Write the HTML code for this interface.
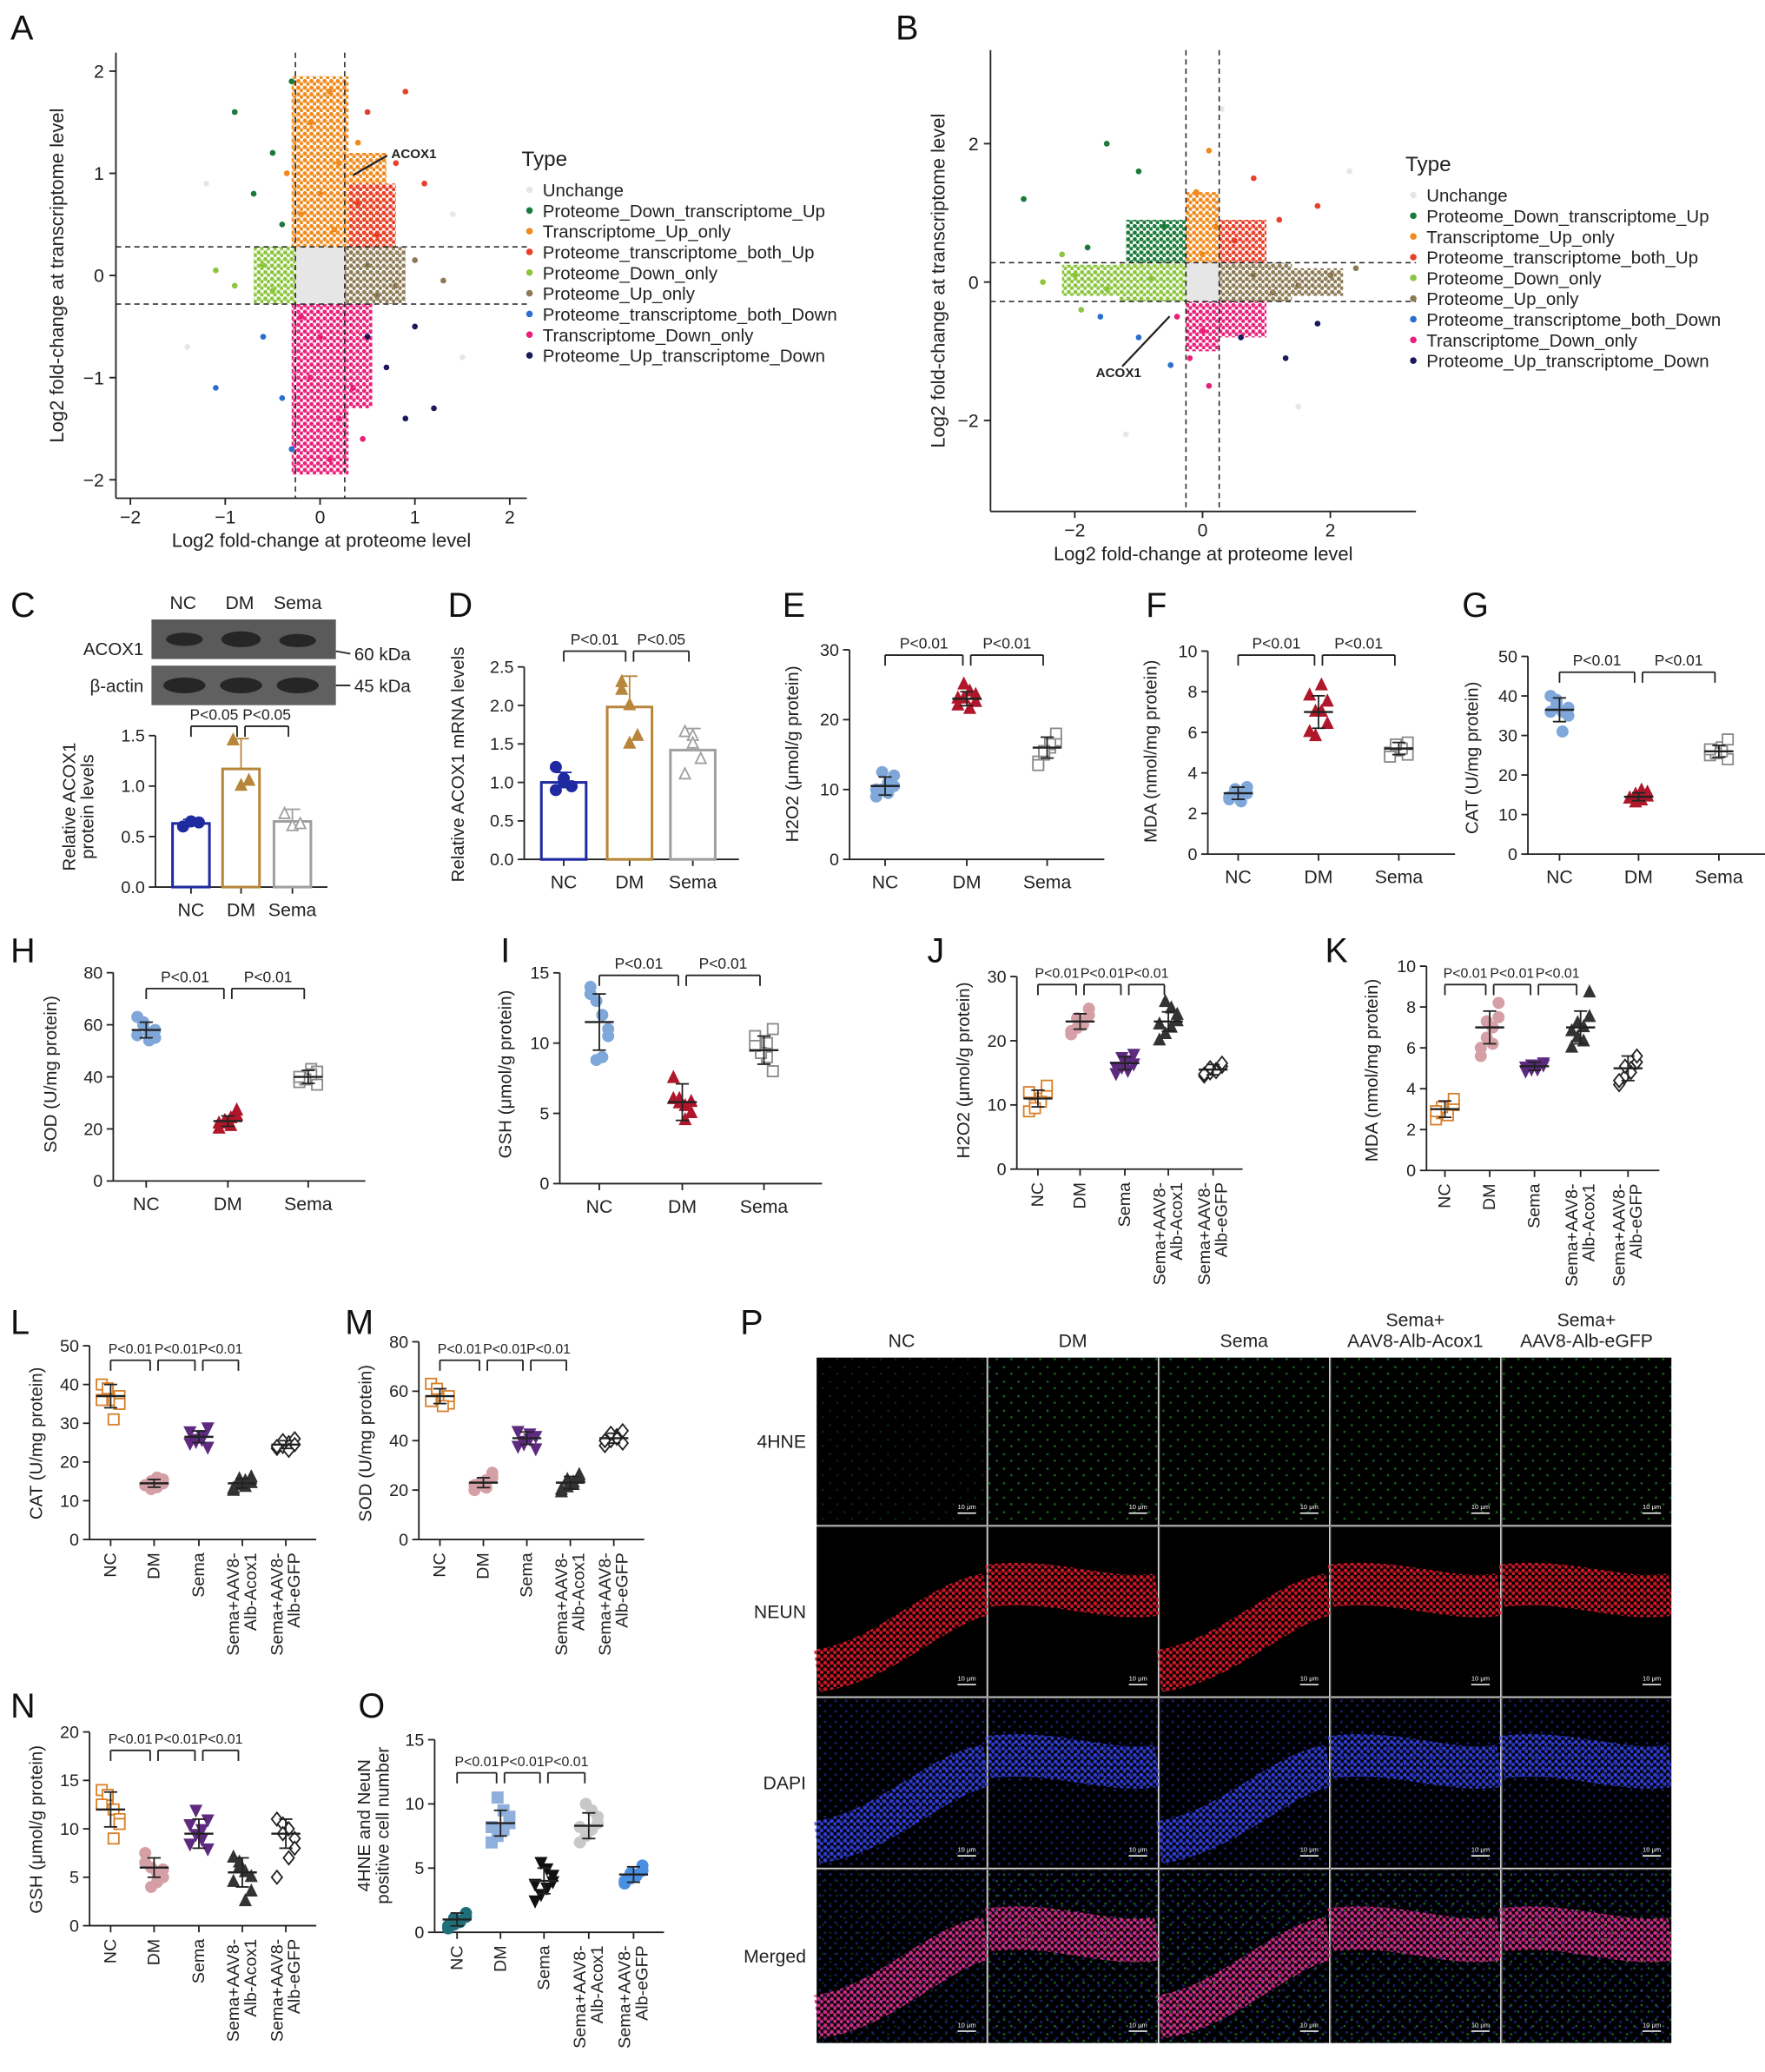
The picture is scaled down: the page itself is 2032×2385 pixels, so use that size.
<!DOCTYPE html>
<html><head><meta charset="utf-8"><title>Multi-panel figure</title>
<style>
html,body{margin:0;padding:0;background:#fff;}
svg{display:block;font-family:"Liberation Sans",Arial,sans-serif;}
</style></head>
<body>
<svg id="fig" width="2032" height="2385" viewBox="0 0 1340 1572" preserveAspectRatio="none" xmlns="http://www.w3.org/2000/svg"></svg>
<script>
// ---------- data ----------
const typeNames = ["Unchange","Proteome_Down_transcriptome_Up","Transcriptome_Up_only","Proteome_transcriptome_both_Up","Proteome_Down_only","Proteome_Up_only","Proteome_transcriptome_both_Down","Transcriptome_Down_only","Proteome_Up_transcriptome_Down"];
const typeColors = ["#e6e6e6","#1a7a3a","#f08a1c","#e8402a","#8cc63f","#8c7a55","#2a6fd0","#e8207a","#1a1a5a"];
const aPoints = [[-0.9,1.6,1],[-0.5,1.2,1],[-0.3,1.9,1],[-0.7,0.8,1],[-0.4,0.5,1],[0.1,1.8,2],[-0.1,1.5,2],[0.2,1.1,2],[0.0,0.8,2],[-0.2,0.6,2],[0.15,0.45,2],[0.5,1.6,3],[0.8,1.1,3],[0.4,0.7,3],[1.1,0.9,3],[0.6,0.4,3],[0.9,1.8,3],[-0.6,0.1,4],[-0.9,-0.1,4],[-0.5,-0.15,4],[-1.1,0.05,4],[0.5,0.1,5],[0.8,-0.1,5],[1.0,0.15,5],[0.6,-0.2,5],[1.3,-0.05,5],[-0.6,-0.6,6],[-0.4,-1.2,6],[-1.1,-1.1,6],[-0.3,-1.7,6],[0.0,-0.6,7],[-0.1,-1.0,7],[0.2,-1.4,7],[0.1,-1.8,7],[-0.2,-0.4,7],[0.5,-0.6,8],[0.9,-1.4,8],[1.2,-1.3,8],[1.0,-0.5,8],[0.7,-0.9,8],[-1.2,0.9,0],[-1.4,-0.7,0],[1.4,0.6,0],[1.5,-0.8,0],[0.4,1.3,2],[0.35,-1.1,7],[0.45,-1.6,7],[-0.35,1.0,2]];
const bPoints = [[-2.8,1.2,1],[-1.5,2.0,1],[-1.0,1.6,1],[-0.6,0.8,1],[-1.8,0.5,1],[0.1,1.9,2],[-0.1,1.3,2],[0.2,0.8,2],[0.0,0.4,2],[0.8,1.5,3],[1.2,0.9,3],[0.5,0.6,3],[1.8,1.1,3],[-2.0,0.1,4],[-1.5,-0.1,4],[-2.5,0.0,4],[-0.8,0.05,4],[0.8,0.1,5],[1.5,-0.05,5],[2.0,0.1,5],[1.1,-0.15,5],[-1.0,-0.8,6],[-1.6,-0.5,6],[-0.5,-1.2,6],[0.0,-0.7,7],[-0.2,-1.1,7],[0.1,-1.5,7],[-0.4,-0.5,7],[0.6,-0.8,8],[1.3,-1.1,8],[1.8,-0.6,8],[-1.2,-2.2,0],[1.5,-1.8,0],[0.3,2.5,0],[2.3,1.6,0],[-2.2,0.4,4],[-1.9,-0.4,4],[2.4,0.2,5]];
const cCats=["NC","DM","Sema"], cMeans=[0.63,1.17,0.65], cSd=[0.04,0.3,0.12], cPts=[[0.6,0.65,0.64],[1.45,1.0,1.05],[0.72,0.6,0.62]];
const dCats=["NC","DM","Sema"], dMeans=[1.0,1.98,1.42], dSd=[0.13,0.4,0.28], dPts=[[1.2,1.0,0.95,0.9,1.05],[2.3,2.0,1.6,2.2,1.5],[1.65,1.6,1.3,1.1,1.5]];
const eCats=["NC","DM","Sema"], eMeans=[10.5,23,16], eSd=[1.3,1,1.5], ePts=[[9,10,11,12,10.5,9.5,12.5,10],[22,23,24,23.5,22.5,21.5,25,23],[14,15,16,17,18,16.5,15.5,13.5]];
const fCats=["NC","DM","Sema"], fMeans=[3,7,5.2], fSd=[0.3,0.8,0.3], fPts=[[2.8,3.1,2.6,3.3,3.0,2.9,3.2,2.7],[6,7,8.3,7.5,6.4,7,5.8,7.8],[5,5.3,5.1,5.5,4.9,5.2,5.4,4.8]];
const gCats=["NC","DM","Sema"], gMeans=[36.5,14.5,26], gSd=[3,1,1.5], gPts=[[40,38,36,37,35,31,39,36],[14,15,13.5,14.5,15.5,16,13,14],[25,26,27,29,24,26,25.5,26.5]];
const hCats=["NC","DM","Sema"], hMeans=[58,23,40], hSd=[3,2,2.5], hPts=[[63,60,57,55,58,54,61,56],[20,22,24,25,27,21,23,22],[38,40,43,42,37,41,39,40]];
const iCats=["NC","DM","Sema"], iMeans=[11.5,5.8,9.5], iSd=[2,1.3,1], iPts=[[14,13,12,11,10.5,9,8.8,13.5],[7.5,6,5.5,5,5.8,4.5,5.7,6],[10.5,9.5,9,11,8,10,9.3,9.8]];
const fiveCats=["NC","DM","Sema","Sema+AAV8-|Alb-Acox1","Sema+AAV8-|Alb-eGFP"];
const jMeans=[11,23,16.5,23,15.5], jSd=[1.3,1.2,1,1.5,0.8], jPts=[[9,10,11,12,13,10.5,9.5,12],[21,22,23,24,25,22.5,23.5,21.5],[15,16,17,18,16.5,15.5,17.5,16],[20,21,22,23,24,25,26,22.5],[14.5,15,15.5,16,16.5,15.2,15.8,14.8]];
const kMeans=[3,7,5.1,7,5], kSd=[0.4,0.8,0.2,0.8,0.6], kPts=[[2.5,2.8,3,3.2,3.5,2.7,3.1,2.9],[6,6.5,7,7.5,8.2,6.2,7.3,5.6],[4.9,5,5.1,5.2,5.3,5.0,5.2,5.1],[6,6.5,7,7.5,8.7,6.3,7.2,6.8],[4.2,4.6,5,5.3,5.6,4.8,5.1,4.4]];
const lMeans=[37,14.5,26.5,14.5,24.5], lSd=[3,1,1.5,1.2,1], lPts=[[40,38,36,37,35,31,39,36],[14,15,13.5,14.5,15.5,16,13,14],[25,26,27,29,24,26,25.5,28],[13,14,15,16,14.5,13.5,15.5,12.5],[23.5,24,25,26,24.5,23,25.5,24]];
const mMeans=[58,23,41,23,41], mSd=[3,2,2.5,2.5,2], mPts=[[63,60,57,55,58,54,61,56],[20,22,24,25,27,21,23,22],[38,40,43,42,37,41,39,44],[19,21,23,25,26,22,24,20],[38,40,42,44,39,41,43,40]];
const nMeans=[12,6,9.5,5.5,9.5], nSd=[1.8,1,1.5,1.5,1.5], nPts=[[14,13,12,11,10.5,9,13.5,12.5],[7.5,6,5.5,5,5.8,4.5,4,6.5],[10.5,9.5,9,11,8,10,12,8.5],[7,6,5.5,5,3.5,2.5,6.5,4.5],[11,10.5,10,9,8,7,9.5,5]];
const oMeans=[1,8.5,4,8.3,4.5], oSd=[0.5,1,1,1,0.6], oPts=[[0.3,0.6,0.9,1.2,1.5,0.8,1.1,0.5],[7,7.5,8,8.5,9,9.5,10.5,8.2],[2.5,3,3.5,4,4.5,5,5.5,3.8],[7,7.5,8,8.5,9,9.5,10,8.2],[3.8,4.2,4.5,4.8,5.2,4.4,4.6,4]];
const pCols=["NC","DM","Sema","Sema+|AAV8-Alb-Acox1","Sema+|AAV8-Alb-eGFP"];
const pRows=["4HNE","NEUN","DAPI","Merged"];

// ---------- helpers ----------
const svg=document.getElementById('fig');
const NS="http://www.w3.org/2000/svg";
function mk(tag,attrs,name,parent){
  const el=document.createElementNS(NS,tag);
  for(const k in attrs) el.setAttribute(k,attrs[k]);
  
  
  (parent||svg).appendChild(el);
  return el;
}
const defs=mk('defs',{},'pattern-defs');
function dotPattern(id,color,size,r,op){
  const p=mk('pattern',{id:id,patternUnits:'userSpaceOnUse',width:size,height:size},'dot-pattern',defs);
  mk('circle',{cx:size*0.3,cy:size*0.3,r:r,fill:color,opacity:op},'pattern-dot',p);
  mk('circle',{cx:size*0.8,cy:size*0.75,r:r,fill:color,opacity:op},'pattern-dot',p);
}
typeColors.forEach((c,i)=>dotPattern('tp'+i,c,5,1.6,1));
dotPattern('green-sparse','#2fbf3a',11,0.9,0.7);
dotPattern('blue-sparse','#3040e0',8,1.0,0.6);
dotPattern('red-dense','#e01a2a',5,1.5,0.9);
dotPattern('blue-dense','#3a4aff',5,1.5,0.8);
dotPattern('mag-dense','#e0308f',5,1.5,0.9);

function txt(x,y,s,size,name,opts){
  opts=opts||{};
  const t=mk('text',{x:x,y:y,'font-size':size,'text-anchor':opts.anchor||'middle',fill:opts.fill||'#222','font-weight':opts.weight||'normal'},name);
  if(opts.rot!==undefined) t.setAttribute('transform','rotate('+opts.rot+' '+x+' '+y+')');
  t.textContent=s;
  return t;
}
function line(x1,y1,x2,y2,name,opts){
  opts=opts||{};
  return mk('line',{x1:x1,y1:y1,x2:x2,y2:y2,stroke:opts.stroke||'#222','stroke-width':opts.w||1.2,'stroke-dasharray':opts.dash||'none'},name);
}
function marker(x,y,shape,color,fill,name){
  const r=4;
  let el;
  if(shape==='circle') el=mk('circle',{cx:x,cy:y,r:r},name);
  else if(shape==='square') el=mk('rect',{x:x-r,y:y-r,width:2*r,height:2*r},name);
  else if(shape==='tri') el=mk('polygon',{points:`${x},${y-r-1} ${x-r},${y+r-1} ${x+r},${y+r-1}`},name);
  else if(shape==='invtri') el=mk('polygon',{points:`${x},${y+r+1} ${x-r},${y-r+1} ${x+r},${y-r+1}`},name);
  else el=mk('polygon',{points:`${x},${y-r-1} ${x+r},${y} ${x},${y+r+1} ${x-r},${y}`},name);
  el.setAttribute('fill',fill?color:'#fff');
  el.setAttribute('stroke',color);
  el.setAttribute('stroke-width',1.2);
  return el;
}
function letter(x,y,s){ txt(x,y,s,26,'panel-label-'+s.toLowerCase(),{anchor:'start',fill:'#111'}); }

function axes(c){
  const yOf=v=>c.y0-v*c.per;
  line(c.ax,yOf(0),c.ax,yOf(c.ymax),'y-axis-line');
  for(let v=0;v<=c.ymax+1e-9;v+=c.step){
    line(c.ax-5,yOf(v),c.ax,yOf(v),'y-tick');
    txt(c.ax-8,yOf(v)+4.5,c.fmt?v.toFixed(1):String(v),13,'y-tick-label',{anchor:'end'});
  }
  const last=c.xs[c.xs.length-1];
  line(c.ax,yOf(0),last+(c.xs[1]-c.xs[0])*0.7,yOf(0),'x-axis-line');
  c.cats.forEach((cat,i)=>{
    line(c.xs[i],yOf(0),c.xs[i],yOf(0)+5,'x-tick');
    if(c.rot){
      const parts=cat.split('|');
      parts.forEach((p,k)=>{
        const xx=c.xs[i]+4+(k-(parts.length-1)/2)*13;
        txt(xx,yOf(0)+10,p,13,'x-category-label',{anchor:'end',rot:-90});
      });
    } else txt(c.xs[i],yOf(0)+22,cat,14,'x-category-label');
  });
  const ylines=c.ylabel.split('|');
  ylines.forEach((s,k)=>{
    const xx=c.ylx+(k-(ylines.length-1)/2)*14;
    txt(xx,c.yly,s,13.5,'y-axis-title',{rot:-90});
  });
  (c.brackets||[]).forEach(b=>{
    const x1=c.xs[b[0]]+(b[0]===0?0:3), x2=c.xs[b[1]]-3, y=c.by;
    line(x1,y,x2,y,'significance-bracket');
    line(x1,y,x1,y+8,'significance-bracket');
    line(x2,y,x2,y+8,'significance-bracket');
    txt((x1+x2)/2,y-5,b[2],c.rot?10.5:11.5,'p-value-label');
  });
  return yOf;
}
function dotPanel(c,means,sds,pts){
  const yOf=axes(c);
  pts.forEach((g,i)=>{
    g.forEach((v,k)=>{
      const off=((k%4)-1.5)*4.5*(k<4?1:-1);
      marker(c.xs[i]+off,yOf(v),c.shapes[i],c.colors[i],c.fills[i],'data-point');
    });
    line(c.xs[i]-11,yOf(means[i]),c.xs[i]+11,yOf(means[i]),'mean-line',{w:1.6});
    line(c.xs[i],yOf(means[i]-sds[i]),c.xs[i],yOf(means[i]+sds[i]),'sd-bar',{w:1.2});
    line(c.xs[i]-5,yOf(means[i]+sds[i]),c.xs[i]+5,yOf(means[i]+sds[i]),'sd-cap');
    line(c.xs[i]-5,yOf(means[i]-sds[i]),c.xs[i]+5,yOf(means[i]-sds[i]),'sd-cap');
  });
}
function barPanel(c,means,sds,pts){
  const yOf=axes(c);
  means.forEach((m,i)=>{
    mk('rect',{x:c.xs[i]-c.bw/2,y:yOf(m),width:c.bw,height:yOf(0)-yOf(m),fill:'none',stroke:c.colors[i],'stroke-width':2},'bar-'+c.cats[i].toLowerCase());
    line(c.xs[i],yOf(m),c.xs[i],yOf(m+sds[i]),'error-bar',{stroke:c.colors[i]});
    line(c.xs[i]-6,yOf(m+sds[i]),c.xs[i]+6,yOf(m+sds[i]),'error-cap',{stroke:c.colors[i]});
    pts[i].forEach((v,k)=>marker(c.xs[i]+(k%3-1)*6,yOf(v),c.shapes[i],c.colors[i],c.fills[i],'data-point'));
  });
}

function scatter(c,points){
  const X=v=>c.x0+v*c.px, Y=v=>c.y0-v*c.py;
  line(c.left,c.bottom,c.left,c.top,'y-axis-line');
  line(c.left,c.bottom,c.right,c.bottom,'x-axis-line');
  c.xt.forEach(v=>{line(X(v),c.bottom,X(v),c.bottom+5,'x-tick');txt(X(v),c.bottom+19,v<0?'−'+(-v):String(v),14,'x-tick-label');});
  c.yt.forEach(v=>{line(c.left-5,Y(v),c.left,Y(v),'y-tick');txt(c.left-9,Y(v)+5,v<0?'−'+(-v):String(v),14,'y-tick-label',{anchor:'end'});});
  c.regions.forEach(r=>mk('rect',{x:X(r[0]),y:Y(r[3]),width:X(r[1])-X(r[0]),height:Y(r[2])-Y(r[3]),fill:r[4]===0?typeColors[0]:'url(#tp'+r[4]+')'},'density-region-'+typeNames[r[4]].toLowerCase()));
  points.forEach(p=>mk('circle',{cx:X(p[0]),cy:Y(p[1]),r:2.2,fill:typeColors[p[2]]},'gene-point'));
  line(X(-c.t),c.top,X(-c.t),c.bottom,'threshold-line',{dash:'4,3',w:1});
  line(X(c.t),c.top,X(c.t),c.bottom,'threshold-line',{dash:'4,3',w:1});
  line(c.left,Y(c.ty),c.right,Y(c.ty),'threshold-line',{dash:'4,3',w:1});
  line(c.left,Y(-c.ty),c.right,Y(-c.ty),'threshold-line',{dash:'4,3',w:1});
  txt((c.left+c.right)/2,c.bottom+37,'Log2 fold-change at proteome level',14.5,'x-axis-title');
  txt(c.ylx,(c.top+c.bottom)/2,'Log2 fold-change at transcriptome level',14.5,'y-axis-title',{rot:-90});
  line(c.ann[0],c.ann[1],c.ann[2],c.ann[3],'acox1-annotation-line',{w:1.5});
  txt(c.ann[4],c.ann[5],'ACOX1',10,'acox1-annotation',{weight:'bold',anchor:'start'});
  txt(c.lx-6,c.ly-6,'Type',16,'legend-title',{anchor:'start'});
  typeNames.forEach((n,i)=>{
    mk('circle',{cx:c.lx,cy:c.ly+12+i*15.7,r:2.5,fill:typeColors[i]},'legend-marker');
    txt(c.lx+10,c.ly+17+i*15.7,n,13.5,'legend-entry',{anchor:'start'});
  });
}
letter(8,30,'A');
scatter({x0:243,px:72,y0:209,py:77.5,left:88,right:400,top:40,bottom:378,xt:[-2,-1,0,1,2],yt:[-2,-1,0,1,2],t:0.26,ty:0.28,ylx:48,
  regions:[[-0.26,0.26,-0.28,0.28,0,1],[-0.3,0.3,0.28,1.95,2],[0.3,0.7,0.28,1.2,2],[-0.3,0.3,-1.95,-0.28,7],[0.3,0.55,-1.3,-0.28,7],[0.26,0.9,-0.28,0.28,5],[-0.7,-0.26,-0.28,0.28,4],[0.3,0.8,0.28,0.9,3]],
  ann:[268,133,294,118,297,120],lx:402,ly:132},aPoints);
letter(680,30,'B');
scatter({x0:913,px:48.5,y0:214,py:52.5,left:752,right:1075,top:38,bottom:388,xt:[-2,0,2],yt:[-2,0,2],t:0.26,ty:0.28,ylx:717,
  regions:[[-0.26,0.26,-0.28,0.28,0,1],[-1.3,-0.26,-0.28,0.28,4],[-2.2,-1.3,-0.2,0.25,4],[0.26,1.4,-0.28,0.28,5],[1.4,2.2,-0.2,0.2,5],[-0.26,0.26,0.28,1.3,2],[-0.26,0.26,-1.0,-0.28,7],[0.26,1.0,-0.8,-0.28,7],[-1.2,-0.26,0.28,0.9,1],[0.26,1.0,0.28,0.9,3]],
  ann:[888,240,852,278,832,286],lx:1073,ly:136},bPoints);

// ---------- C ----------
letter(8,468,'C');
[['NC',139],['DM',182],['Sema',226]].forEach(a=>txt(a[1],462,a[0],14,'blot-lane-label'));
mk('rect',{x:115,y:470,width:140,height:30,fill:'#5a5a5a'},'acox1-blot');
mk('rect',{x:115,y:505,width:140,height:30,fill:'#606060'},'beta-actin-blot');
[[140,485,14,5],[183,485,15,6],[226,486,14,5],[140,520,16,6],[183,520,16,6],[226,520,16,6]].forEach(b=>mk('ellipse',{cx:b[0],cy:b[1],rx:b[2],ry:b[3],fill:'#262626'},'blot-band'));
txt(109,497,'ACOX1',13.5,'blot-label-acox1',{anchor:'end'});
txt(109,525,'β-actin',13.5,'blot-label-actin',{anchor:'end'});
line(255,494,266,496,'marker-line');line(255,520,266,520,'marker-line');
txt(269,501,'60 kDa',13.5,'size-marker-60',{anchor:'start'});
txt(269,525,'45 kDa',13.5,'size-marker-45',{anchor:'start'});
barPanel({ax:118,y0:673,per:76.6,ymax:1.5,step:0.5,fmt:true,xs:[145,183,222],bw:28,cats:cCats,colors:['#1f2aa0','#b8863b','#a0a0a0'],shapes:['circle','tri','tri'],fills:[true,true,false],
  ylabel:'Relative ACOX1|protein levels',ylx:64,yly:612,by:551,brackets:[[0,1,'P<0.05'],[1,2,'P<0.05']]},cMeans,cSd,cPts);

// ---------- D ----------
letter(340,468,'D');
barPanel({ax:398,y0:652,per:58.4,ymax:2.5,step:0.5,fmt:true,xs:[428,478,526],bw:34,cats:dCats,colors:['#1f2aa0','#b8863b','#a0a0a0'],shapes:['circle','tri','tri'],fills:[true,true,false],
  ylabel:'Relative ACOX1 mRNA levels',ylx:352,yly:580,by:494,brackets:[[0,1,'P<0.01'],[1,2,'P<0.05']]},dMeans,dSd,dPts);

// ---------- E F G H I ----------
const c3=['#7fa7d9','#b0172a','#8a8a8a'], s3=['circle','tri','square'], f3=[true,true,false];
letter(594,468,'E');
dotPanel({ax:645,y0:652,per:5.3,ymax:30,step:10,xs:[672,734,795],cats:eCats,colors:c3,shapes:s3,fills:f3,ylabel:'H2O2 (μmol/g protein)',ylx:606,yly:572,by:497,brackets:[[0,1,'P<0.01'],[1,2,'P<0.01']]},eMeans,eSd,ePts);
letter(870,468,'F');
dotPanel({ax:917,y0:648,per:15.4,ymax:10,step:2,xs:[940,1001,1062],cats:fCats,colors:c3,shapes:s3,fills:f3,ylabel:'MDA (nmol/mg protein)',ylx:878,yly:570,by:497,brackets:[[0,1,'P<0.01'],[1,2,'P<0.01']]},fMeans,fSd,fPts);
letter(1110,468,'G');
dotPanel({ax:1160,y0:648,per:3.0,ymax:50,step:10,xs:[1184,1244,1305],cats:gCats,colors:c3,shapes:s3,fills:f3,ylabel:'CAT (U/mg protein)',ylx:1122,yly:575,by:510,brackets:[[0,1,'P<0.01'],[1,2,'P<0.01']]},gMeans,gSd,gPts);
letter(8,730,'H');
dotPanel({ax:86,y0:896,per:1.975,ymax:80,step:20,xs:[111,173,234],cats:hCats,colors:c3,shapes:s3,fills:f3,ylabel:'SOD (U/mg protein)',ylx:43,yly:815,by:750,brackets:[[0,1,'P<0.01'],[1,2,'P<0.01']]},hMeans,hSd,hPts);
letter(380,730,'I');
dotPanel({ax:425,y0:898,per:10.66,ymax:15,step:5,xs:[455,518,580],cats:iCats,colors:c3,shapes:s3,fills:f3,ylabel:'GSH (μmol/g protein)',ylx:388,yly:815,by:740,brackets:[[0,1,'P<0.01'],[1,2,'P<0.01']]},iMeans,iSd,iPts);

// ---------- J K L M N O ----------
const c5=['#d8802a','#d4a0a6','#5e2a80','#333333','#222222'], s5=['square','circle','invtri','tri','diamond'], f5=[false,true,true,true,false];
const br5=[[0,1,'P<0.01'],[1,2,'P<0.01'],[2,3,'P<0.01']];
letter(704,730,'J');
dotPanel({ax:772,y0:887,per:4.87,ymax:30,step:10,rot:true,xs:[788,820,854,887,921],cats:fiveCats,colors:c5,shapes:s5,fills:f5,ylabel:'H2O2 (μmol/g protein)',ylx:736,yly:812,by:747,brackets:br5},jMeans,jSd,jPts);
letter(1006,730,'K');
dotPanel({ax:1083,y0:888,per:15.5,ymax:10,step:2,rot:true,xs:[1097,1131,1165,1200,1236],cats:fiveCats,colors:c5,shapes:s5,fills:f5,ylabel:'MDA (nmol/mg protein)',ylx:1046,yly:812,by:747,brackets:br5},kMeans,kSd,kPts);
letter(8,1012,'L');
dotPanel({ax:68,y0:1168,per:2.94,ymax:50,step:10,rot:true,xs:[84,117,151,184,217],cats:fiveCats,colors:c5,shapes:s5,fills:f5,ylabel:'CAT (U/mg protein)',ylx:32,yly:1095,by:1032,brackets:br5},lMeans,lSd,lPts);
letter(262,1012,'M');
dotPanel({ax:318,y0:1168,per:1.875,ymax:80,step:20,rot:true,xs:[334,367,400,433,466],cats:fiveCats,colors:c5,shapes:s5,fills:f5,ylabel:'SOD (U/mg protein)',ylx:282,yly:1095,by:1032,brackets:br5},mMeans,mSd,mPts);
letter(8,1303,'N');
dotPanel({ax:68,y0:1461,per:7.35,ymax:20,step:5,rot:true,xs:[84,117,151,184,217],cats:fiveCats,colors:c5,shapes:s5,fills:f5,ylabel:'GSH (μmol/g protein)',ylx:32,yly:1388,by:1328,brackets:br5},nMeans,nSd,nPts);
letter(272,1303,'O');
dotPanel({ax:330,y0:1466,per:9.74,ymax:15,step:5,rot:true,xs:[347,380,413,447,481],cats:fiveCats,colors:['#1e6f7a','#8fb0dc','#111111','#c8c8c8','#4a90e2'],shapes:['circle','square','invtri','circle','circle'],fills:[true,true,true,true,true],ylabel:'4HNE and NeuN|positive cell number',ylx:288,yly:1385,by:1345,brackets:br5},oMeans,oSd,oPts);

// ---------- P microscopy ----------
letter(562,1012,'P');
const colX=[620,750,880,1010,1140], rowY=[1030,1158,1288,1418], cw=129, rh=[127,129,129,132];
pCols.forEach((c,i)=>{
  const parts=c.split('|');
  parts.forEach((p,k)=>txt(colX[i]+cw/2,1022-(parts.length-1-k)*16,p,14,'column-header'));
});
pRows.forEach((r,j)=>txt(612,rowY[j]+rh[j]/2+5,r,14,'row-label',{anchor:'end'}));
pRows.forEach((r,j)=>{
  pCols.forEach((c,i)=>{
    const g=mk('g',{},'micrograph-'+r.toLowerCase()+'-'+(i+1));
    mk('rect',{x:colX[i],y:rowY[j],width:cw,height:rh[j],fill:'#000'},'micrograph-background',g);
    const y0=rowY[j], h=rh[j];
    if(j===0||j===3){
      mk('rect',{x:colX[i],y:y0,width:cw,height:h,fill:'url(#green-sparse)',opacity:i===0?0.3:0.75},'green-signal',g);
    }
    if(j===2||j===3){
      mk('rect',{x:colX[i],y:y0,width:cw,height:h,fill:'url(#blue-sparse)',opacity:0.8},'blue-signal',g);
    }
    if(j!==0){
      const bandY=(i===0||i===2)?[0.85,0.45]:[0.35,0.45];
      const pth=`M${colX[i]},${y0+h*bandY[0]} C${colX[i]+cw*0.4},${y0+h*(bandY[0]-0.05)} ${colX[i]+cw*0.7},${y0+h*bandY[1]} ${colX[i]+cw},${y0+h*(bandY[1]-0.05)}`;
      const pat=j===1?'url(#red-dense)':(j===2?'url(#blue-dense)':'url(#mag-dense)');
      const band=mk('path',{d:pth,stroke:pat,'stroke-width':h*0.25,fill:'none'},'neuron-band',g);
      band.setAttribute('clip-path','none');
    }
    line(colX[i]+cw-22,y0+h-9,colX[i]+cw-8,y0+h-9,'scale-bar',{stroke:'#fff',w:1});
    txt(colX[i]+cw-15,y0+h-12,'10 μm',5,'scale-bar-label',{fill:'#fff'});
  });
});
// clip overflow of bands at panel edges
mk('rect',{x:1269,y:1030,width:20,height:520,fill:'#fff'},'panel-edge-mask');
pCols.forEach((c,i)=>{ if(i>0) line(colX[i],1030,colX[i],1550,'grid-divider',{stroke:'#888',w:1}); });
rowY.forEach((y,j)=>{ if(j>0) line(620,y,1269,y,'grid-divider',{stroke:'#888',w:1}); });
</script>
</body></html>
